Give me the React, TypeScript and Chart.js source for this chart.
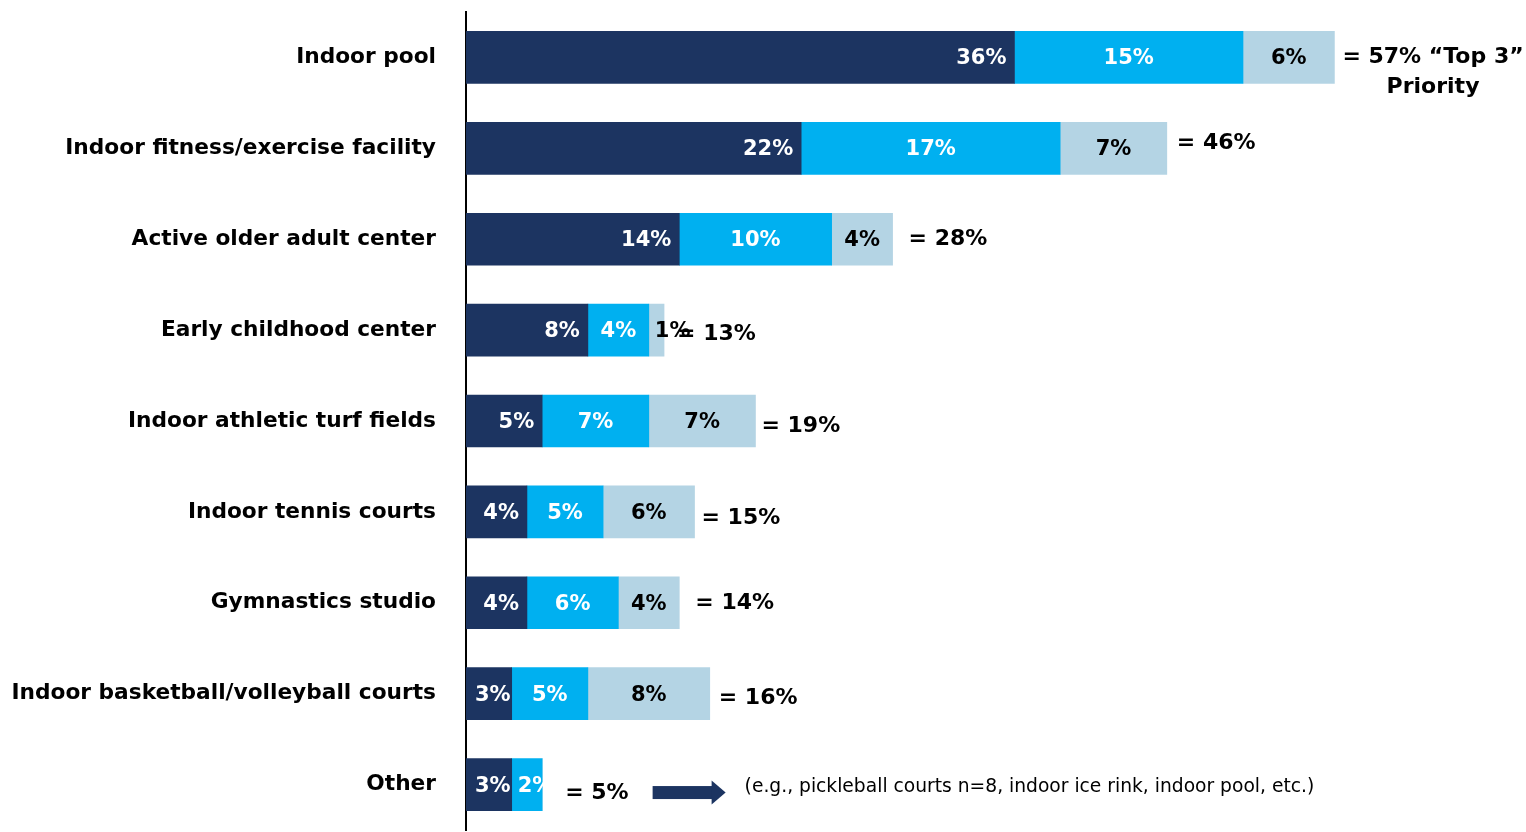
import React, { useEffect, useRef } from "react";
import { Chart, registerables } from "chart.js";

Chart.register(...registerables);

const categories = [
  "Indoor pool",
  "Indoor fitness/exercise facility",
  "Active older adult center",
  "Early childhood center",
  "Indoor athletic turf fields",
  "Indoor tennis courts",
  "Gymnastics studio",
  "Indoor basketball/volleyball courts",
  "Other",
];
const firstPriority = [36, 22, 14, 8, 5, 4, 4, 3, 3];
const secondPriority = [15, 17, 10, 4, 7, 5, 6, 5, 2];
const thirdPriority = [6, 7, 4, 1, 7, 6, 4, 8, 0];
const seriesNames = ["1st priority", "2nd priority", "3rd priority"];
const firstTotalSuffix = " \u201cTop 3\u201d";
const firstTotalLine2 = "Priority";
const otherNote = "(e.g., pickleball courts n=8, indoor ice rink, indoor pool, etc.)";

// layout tweaks for the "= X%" total annotations (pixels)
const totalDx = [8, 10, 16, 13, 6, 7, 16, 9, 23];
const totalDy = [0, -5, 0, 4.5, 5.5, 6, 1, 4.5, 8.5];

const COLORS = ["#1C3461", "#00B0F0", "#B4D4E4"];
const LABEL_COLORS = ["#FFFFFF", "#FFFFFF", "#000000"];
const FONT = '"DejaVu Sans", Verdana, sans-serif';

const labelPlugin = {
  id: "segmentLabels",
  afterDatasetsDraw(chart: any) {
    const ctx = chart.ctx as CanvasRenderingContext2D;
    ctx.save();
    ctx.textBaseline = "middle";
    chart.data.datasets.forEach((ds: any, di: number) => {
      const meta = chart.getDatasetMeta(di);
      meta.data.forEach((bar: any, i: number) => {
        const v = ds.data[i];
        if (!v) return;
        const { x, base, y } = bar.getProps(["x", "base", "y"], true);
        const start = Math.min(x, base);
        const end = Math.max(x, base);
        const txt = v + "%";
        ctx.font = `bold 21px ${FONT}`;
        const w = ctx.measureText(txt).width;
        ctx.fillStyle = LABEL_COLORS[di];
        let tx: number;
        if (di === 0) {
          ctx.textAlign = "right";
          tx = Math.max(end - 8, start + w + 9);
        } else if (w > end - start - 4) {
          ctx.textAlign = "left";
          tx = start + 6;
        } else {
          ctx.textAlign = "center";
          tx = (start + end) / 2;
        }
        ctx.fillText(txt, tx, y + 1.5);
      });
    });

    // totals
    const xs = chart.scales.x;
    const ys = chart.scales.y;
    categories.forEach((_, i) => {
      const total = firstPriority[i] + secondPriority[i] + thirdPriority[i];
      const endPx = xs.getPixelForValue(total);
      const yc = ys.getPixelForValue(i);
      const tx = endPx + totalDx[i];
      const ty = yc + totalDy[i];
      let line1 = `= ${total}%`;
      if (i === 0) line1 += firstTotalSuffix;
      ctx.fillStyle = "#000";
      ctx.font = `bold 22px ${FONT}`;
      ctx.textAlign = "left";
      ctx.fillText(line1, tx, ty);
      const w1 = ctx.measureText(line1).width;
      if (i === 0) {
        ctx.textAlign = "center";
        ctx.fillText(firstTotalLine2, tx + w1 / 2, ty + 30);
      }
      if (i === categories.length - 1) {
        const ax0 = tx + w1 + 24;
        const shaftLen = 60;
        const headLen = 13;
        const ay = yc + 8;
        ctx.fillStyle = COLORS[0];
        ctx.fillRect(ax0, ay - 6.5, shaftLen, 13);
        ctx.beginPath();
        ctx.moveTo(ax0 + shaftLen - 1, ay - 12);
        ctx.lineTo(ax0 + shaftLen + headLen, ay);
        ctx.lineTo(ax0 + shaftLen - 1, ay + 12);
        ctx.closePath();
        ctx.fill();
        ctx.fillStyle = "#000";
        ctx.font = `18.7px ${FONT}`;
        ctx.textAlign = "left";
        ctx.fillText(otherNote, ax0 + shaftLen + headLen + 19, yc + 2.5);
      }
    });
    ctx.restore();
  },
};

export default function App() {
  const ref = useRef<HTMLCanvasElement | null>(null);
  useEffect(() => {
    if (!ref.current) return;
    const chart = new Chart(ref.current, {
      type: "bar",
      data: {
        labels: categories,
        datasets: [firstPriority, secondPriority, thirdPriority].map((d, i) => ({
          label: seriesNames[i],
          data: d,
          backgroundColor: COLORS[i],
          borderWidth: 0,
          barThickness: 52,
        })),
      },
      options: {
        indexAxis: "y",
        responsive: false,
        animation: false,
        layout: { padding: { left: 0, right: 24, top: 12, bottom: 2 } },
        plugins: {
          legend: { display: false },
          tooltip: { enabled: false },
        },
        scales: {
          x: {
            stacked: true,
            min: 0,
            max: 68,
            display: false,
          },
          y: {
            stacked: true,
            grid: { display: false, drawTicks: false },
            border: { display: true, color: "#000", width: 2 },
            ticks: {
              color: "#000",
              padding: 30,
              font: { family: FONT, weight: "bold", size: 21.7 },
            },
            afterFit: (scale: any) => {
              scale.width = 466;
              scale.paddingTop = 0;
              scale.paddingBottom = 0;
            },
          },
        },
      },
      plugins: [labelPlugin],
    } as any);
    return () => chart.destroy();
  }, []);
  return (
    <div
      style={{
        position: "fixed",
        left: 0,
        top: 0,
        width: 1526,
        height: 832,
        background: "#fff",
      }}
    >
      <canvas ref={ref} width={1526} height={832} />
    </div>
  );
}
